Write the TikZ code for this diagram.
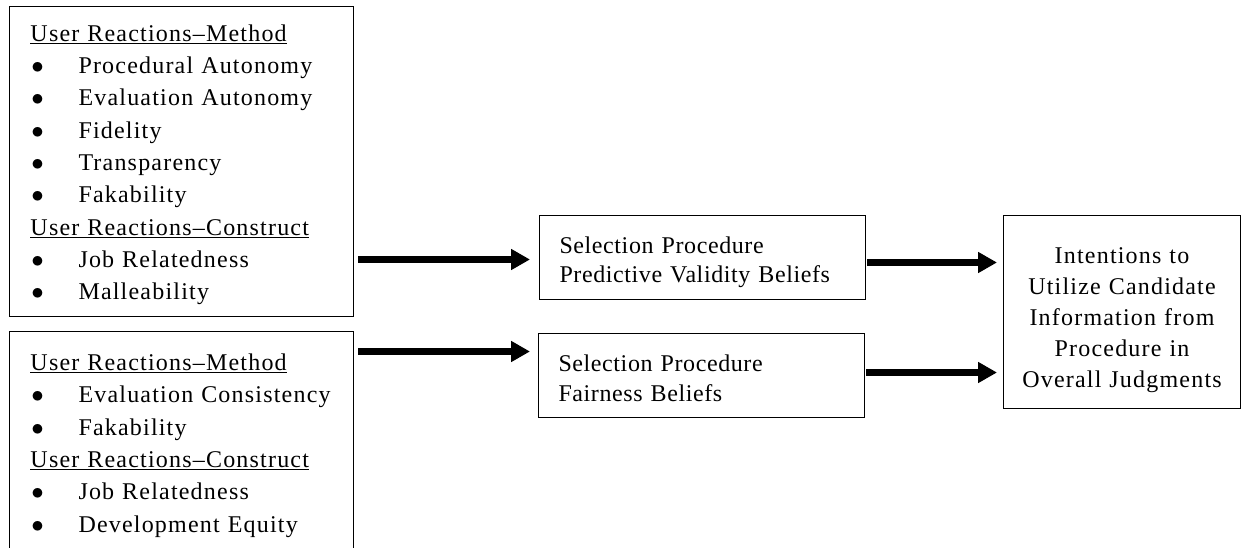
\documentclass[tikz,border=0pt]{standalone}
\usepackage{fontspec}
\setmainfont[LetterSpace=5, WordSpace=1.6]{Liberation Serif}
\newfontfamily\beliefsfont[LetterSpace=2.5, WordSpace=1.6]{Liberation Serif}
\usetikzlibrary{arrows.meta}

\newcommand{\grouphead}[1]{\underline{#1}}
\newcommand{\bitem}[1]{\mbox{\makebox[48pt][l]{\hspace{1pt}$\bullet$}#1}}

\begin{document}
\begin{tikzpicture}[x=1pt, y=-1pt]
            \tikzstyle{arrow} = [line width=6.5pt,-{Triangle[length=19pt,width=20pt]}]
            \tikzstyle{listbox} = [draw, line width=1pt, anchor=north west, text width=302pt, inner xsep=21pt, inner ysep=12pt, align=left, font=\fontsize{24}{32.3}\selectfont]
            \tikzstyle{beliefbox} = [draw, line width=1pt, anchor=north west, text width=286pt, inner xsep=20pt, inner ysep=12pt, text height=26pt, text depth=34pt, align=left, font=\beliefsfont\fontsize{24}{29.5}\selectfont]

            \useasboundingbox (0, 0) rectangle (1243, 548);
            \clip (0, 0) rectangle (1243, 548);

            \node[listbox, text height=22.8pt] (methodA) at (9, 6) {\grouphead{User Reactions–Method}\\
                \bitem{Procedural Autonomy}\\
                \bitem{Evaluation Autonomy}\\
                \bitem{Fidelity}\\
                \bitem{Transparency}\\
                \bitem{Fakability}\\
                \grouphead{User Reactions–Construct}\\
                \bitem{Job Relatedness}\\
                \bitem{Malleability}};
            \node[listbox, text height=27pt, text depth=200pt] (methodB) at (9, 331) {\grouphead{User Reactions–Method}\\
                \bitem{Evaluation Consistency}\\
                \bitem{Fakability}\\
                \grouphead{User Reactions–Construct}\\
                \bitem{Job Relatedness}\\
                \bitem{Development Equity}};

            \node[beliefbox] (validity) at (539, 215) {Selection Procedure\\Predictive Validity Beliefs};
            \node[beliefbox] (fairness) at (538, 333) {Selection Procedure\\Fairness Beliefs};

            \node[draw, line width=1pt, anchor=north west, text width=217pt, inner xsep=10pt, inner ysep=16pt, text height=32pt, text depth=129pt, align=center, font=\fontsize{24}{31}\selectfont] (intent) at (1003, 215) {Intentions to\\Utilize Candidate\\Information from\\Procedure in\\Overall Judgments};

            \coordinate (inC) at ([yshift=-2pt]validity.west);
            \coordinate (inD) at ([yshift=24pt]fairness.west);
            \coordinate (outC) at ([yshift=-5pt]validity.east);
            \coordinate (outD) at ([yshift=3pt]fairness.east);

            \draw [arrow, shorten <=4pt, shorten >=9pt] (methodA.east |- inC) -- (inC);
            \draw [arrow, shorten <=4pt, shorten >=8pt] (methodB.east |- inD) -- (inD);
            \draw [arrow, shorten <=1pt, shorten >=6pt] (outC) -- (outC -| intent.west);
            \draw [arrow, shorten <=1pt, shorten >=6pt] (outD) -- (outD -| intent.west);
\end{tikzpicture}
\end{document}
